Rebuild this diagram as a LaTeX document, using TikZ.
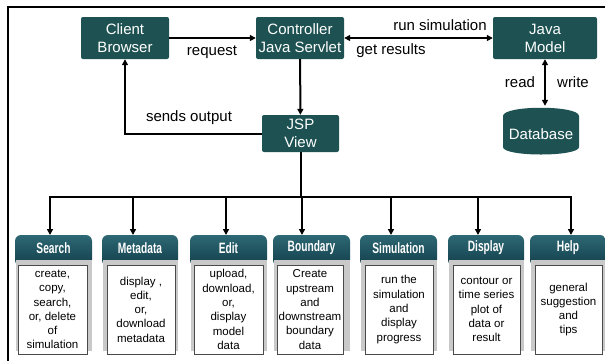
\documentclass[tikz,border=0pt]{standalone}
\usepackage{fontspec}
\setmainfont{Liberation Sans}
\newfontfamily\tabfont{Liberation Sans}[FakeStretch=0.68]
\usetikzlibrary{arrows.meta}

\definecolor{boxteal}{HTML}{1E5252}
\definecolor{tabtop}{HTML}{2D6874}
\definecolor{tabbot}{HTML}{123F4B}
\definecolor{panelgray}{HTML}{C9C9C9}
\definecolor{descline}{HTML}{4A4A4A}

\tikzset{
  mainbox/.style={fill=boxteal, rounded corners=2pt, text=white, align=center,
    inner sep=0pt, font=\fontsize{15}{18}\selectfont},
  edgelabel/.style={font=\fontsize{15}{17}\selectfont, inner sep=0pt},
  conn/.style={line width=2pt, draw=black},
  arr/.style={conn, -{Triangle[length=6pt,width=6pt]}},
  darr/.style={conn, {Triangle[length=6pt,width=6pt]}-{Triangle[length=6pt,width=6pt]}},
  tabshade/.style={top color=tabtop, bottom color=tabbot, rounded corners=6pt},
  tablabel/.style={text=white, inner sep=0pt,
    font=\tabfont\bfseries\fontsize{15}{17}\selectfont},
  descbox/.style={fill=white, draw=descline, line width=0.8pt, align=center,
    inner sep=0pt, minimum height=89pt,
    font=\fontsize{11.5}{14.3}\selectfont}
}

% one menu entry: tab, grey panel, description box and its feed arrow
% #1 name, #2/#3 tab left/right, #4/#5 box left/right, #6 arrow x, #7 title, #8 text
\newcommand{\menuentry}[8]{%
  \shade[tabshade] (#2,235) rectangle (#3,266);
  \fill[panelgray] (#2+0.5,260) rectangle (#3-0.5,351);
  \node[tablabel] (#1tab) at ({(#2+#3)/2},248) {#7};
  \node[descbox, minimum width={(#5-#4)*1pt}] (#1box) at ({(#4+#5)/2},309.5) {#8};
  \coordinate (#1bus) at (#6,197);
  \coordinate (#1in) at (#6,235);
  \draw[arr] (#1bus) -- (#1in);
}

\begin{document}
\begin{tikzpicture}[x=1pt,y=-1pt]
\useasboundingbox (0,0) rectangle (605,360);
\fill[white] (0,0) rectangle (605,360);

% outer frame
\draw[line width=2.4pt] (8,365) -- (8,7) -- (610,7);

% top row
\node[mainbox, minimum width=88pt, minimum height=42pt] (client) at (125,38) {Client\\Browser};
\node[mainbox, minimum width=88pt, minimum height=42pt] (ctrl) at (300,38) {Controller\\Java Servlet};
\node[mainbox, minimum width=104pt, minimum height=42pt] (model) at (545,38) {Java\\Model};
\node[mainbox, minimum width=77pt, minimum height=37pt] (jsp) at (300.5,133.5) {JSP\\View};

% database cylinder
\fill[boxteal] (503,147) -- (503,116) .. controls (503,105) and (579,105) .. (579,116)
  -- (579,147) .. controls (579,157) and (503,157) .. (503,147) -- cycle;
\node[minimum width=76pt, minimum height=56pt, inner sep=0pt, text=white,
  font=\fontsize{15}{17}\selectfont] (db) at (541,134) {Database};

% connectors between the top nodes
\draw[arr] (client) -- (ctrl);
\node[edgelabel] at (212,52) {request};
\draw[darr] (ctrl) -- (model);
\node[edgelabel] at (440,25) {run simulation};
\node[edgelabel] at (391,51) {get results};
\draw[arr] (ctrl) -- (jsp);
\draw[arr] (jsp.west) -| (client.south);
\node[edgelabel] at (189,118) {sends output};
\draw[darr] (model.south) -- (model.south |- db.north);
\node[edgelabel] at (520,82) {read};
\node[edgelabel] at (573,82) {write};

% menu row
\menuentry{search}{15}{92}{18}{87}{50}{Search}{create,\\copy,\\search,\\or, delete\\of\\simulation}
\menuentry{meta}{102}{178}{107}{175}{133}{Metadata}{display ,\\edit,\\or,\\download\\metadata}
\menuentry{edit}{190}{267}{194}{263}{226}{Edit}{upload,\\download,\\or,\\display\\model\\data}
\menuentry{bound}{273}{350}{277}{343}{302}{Boundary}{Create\\upstream\\and\\downstream\\boundary\\data}
\menuentry{sim}{360}{437}{365}{433}{391}{Simulation}{run the\\simulation\\and\\display\\progress}
\menuentry{disp}{448}{524}{453}{520}{478}{Display}{contour or\\time series\\plot of\\data or\\result}
\menuentry{help}{530}{606}{535}{602}{571}{Help}{general\\suggestion\\and\\tips}

% bus from the view to the menu
\coordinate (viewbus) at (300.5,197);
\draw[conn] (jsp.south) -- (viewbus);
\draw[conn, line cap=rect] (searchbus) -- (helpbus);
\end{tikzpicture}
\end{document}
